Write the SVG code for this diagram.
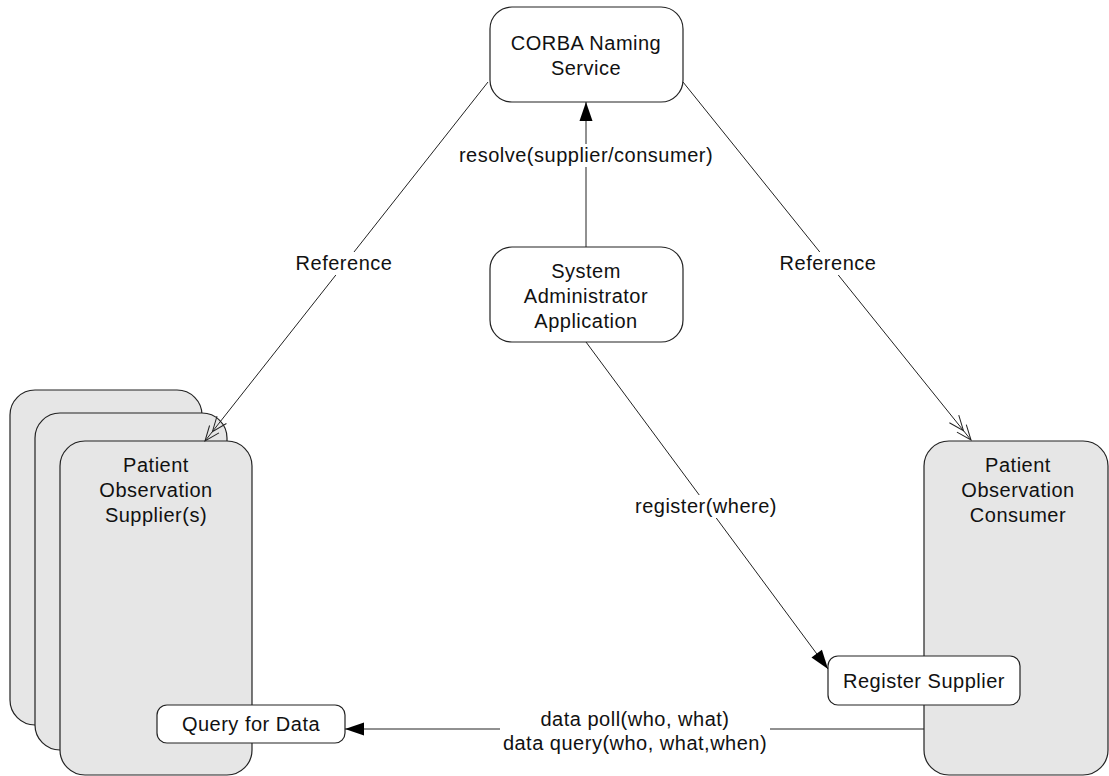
<svg xmlns="http://www.w3.org/2000/svg" width="1109" height="776" viewBox="0 0 1109 776">
<style>
text{font-family:"Liberation Sans",Arial,sans-serif;font-size:20px;fill:#111;text-anchor:middle;letter-spacing:0.5px}
.box{fill:#fff;stroke:#222;stroke-width:1.2}
.grey{fill:#e6e6e6;stroke:#222;stroke-width:1.2}
.ln{stroke:#222;stroke-width:1;fill:none}
.lbl{fill:#fff;stroke:none}
</style>
<defs>
<marker id="fill" viewBox="-20 -8 21 16" refX="0" refY="0" markerWidth="21" markerHeight="16" markerUnits="userSpaceOnUse" orient="auto">
<path d="M0,0 L-19,-6.5 L-19,6.5 Z" fill="#000"/>
</marker>
<marker id="dbl" viewBox="-30 -9 32 18" refX="0" refY="0" markerWidth="32" markerHeight="18" markerUnits="userSpaceOnUse" orient="auto">
<path d="M-15,-6 L0,0 L-15,6 M-27,-6 L-12,0 L-27,6" fill="none" stroke="#222" stroke-width="1"/>
</marker>
</defs>
<rect width="1109" height="776" fill="#fff"/>
<g id="supplier-stack">
<rect class="grey" x="10" y="390" width="192" height="335" rx="25"/>
<rect class="grey" x="35" y="413" width="192" height="337" rx="25"/>
<rect class="grey" x="60" y="441" width="192" height="334" rx="25"/>
<text x="156" y="472">Patient</text>
<text x="156" y="497">Observation</text>
<text x="156" y="522">Supplier(s)</text>
</g>
<g id="consumer">
<rect class="grey" x="924" y="441" width="184" height="334" rx="25"/>
<text x="1018" y="472">Patient</text>
<text x="1018" y="497">Observation</text>
<text x="1018" y="522">Consumer</text>
</g>
<g id="corba">
<rect class="box" x="490" y="7" width="193" height="95" rx="22"/>
<text x="586" y="50">CORBA Naming</text>
<text x="586" y="75">Service</text>
</g>
<g id="sysadmin">
<rect class="box" x="490" y="247" width="193" height="95" rx="22"/>
<text x="586" y="278">System</text>
<text x="586" y="303">Administrator</text>
<text x="586" y="328">Application</text>
</g>
<g id="query">
<rect class="box" x="157" y="705" width="188" height="38" rx="10"/>
<text x="251" y="731">Query for Data</text>
</g>
<g id="register">
<rect class="box" x="828" y="656" width="192" height="49" rx="10"/>
<text x="924" y="688">Register Supplier</text>
</g>
<g id="connectors">
<line class="ln" x1="586" y1="247" x2="586" y2="102" marker-end="url(#fill)"/>
<rect class="lbl" x="456" y="144" width="260" height="23"/>
<text x="586" y="162">resolve(supplier/consumer)</text>
<line class="ln" x1="488" y1="82" x2="205" y2="441" marker-end="url(#dbl)"/>
<rect class="lbl" x="294" y="252" width="100" height="23"/>
<text x="344" y="270">Reference</text>
<line class="ln" x1="683" y1="82" x2="971" y2="440" marker-end="url(#dbl)"/>
<rect class="lbl" x="778" y="252" width="100" height="23"/>
<text x="828" y="270">Reference</text>
<line class="ln" x1="586" y1="342" x2="828" y2="669" marker-end="url(#fill)"/>
<rect class="lbl" x="632" y="495" width="148" height="23"/>
<text x="706" y="513">register(where)</text>
<line class="ln" x1="924" y1="729" x2="345" y2="729" marker-end="url(#fill)"/>
<rect class="lbl" x="500" y="708" width="270" height="48"/>
<text x="635" y="726">data poll(who, what)</text>
<text x="635" y="750">data query(who, what,when)</text>
</g>
</svg>
